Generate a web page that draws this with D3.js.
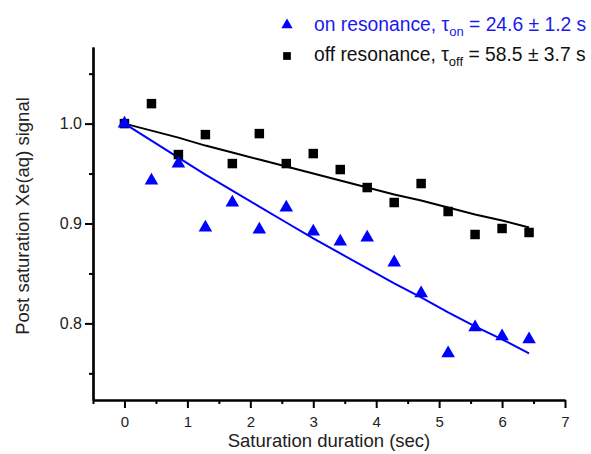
<!DOCTYPE html>
<html>
<head>
<meta charset="utf-8">
<script src="https://cdn.jsdelivr.net/npm/d3@7"></script>
<style>
  body { margin: 0; background: #fff; }
  svg { font-family: "Liberation Sans", Arial, sans-serif; }
</style>
</head>
<body>
<svg id="chart" width="591" height="454"></svg>
<script>
// saturation times (sec)
const times = [0, 0.429, 0.857, 1.286, 1.714, 2.143, 2.571, 3.0, 3.429, 3.857, 4.286, 4.714, 5.143, 5.571, 6.0, 6.429];

// measured signal
const onValues  = [1.000, 0.943, 0.960, 0.896, 0.921, 0.894, 0.916, 0.892, 0.882, 0.886, 0.861, 0.830, 0.770, 0.796, 0.787, 0.784];
const offValues = [1.000, 1.020, 0.969, 0.989, 0.960, 0.990, 0.960, 0.970, 0.954, 0.936, 0.921, 0.940, 0.912, 0.889, 0.895, 0.891];

// fitted decay curves
const onFit  = [1.000, 0.983, 0.966, 0.949, 0.933, 0.917, 0.901, 0.885, 0.870, 0.855, 0.840, 0.826, 0.811, 0.797, 0.784, 0.770];
const offFit = [1.000, 0.993, 0.986, 0.978, 0.971, 0.964, 0.957, 0.950, 0.943, 0.936, 0.929, 0.923, 0.916, 0.909, 0.903, 0.896];

const xTicks = [0, 1, 2, 3, 4, 5, 6, 7];
const yTicks = [0.8, 0.9, 1.0];

const svg = d3.select('#chart');

const x = d3.scaleLinear().domain([-0.5, 7]).range([93, 565]);
const y = d3.scaleLinear().domain([0.7233, 1.0767]).range([400, 47]);

const blue = '#0000ff';

// axes
const xAxis = d3.axisBottom(x).tickValues(xTicks).tickSize(8).tickSizeOuter(0).tickFormat(d3.format('d'));
const xMinor = d3.axisBottom(x).tickValues(d3.range(-0.5, 7, 1)).tickSize(4).tickSizeOuter(0).tickFormat('');
const yAxis = d3.axisLeft(y).tickValues(yTicks).tickSize(8).tickSizeOuter(0).tickFormat(d3.format('.1f'));
const yMinor = d3.axisLeft(y).tickValues([0.75, 0.85, 0.95, 1.05]).tickSize(4).tickSizeOuter(0).tickFormat('');

function styleAxis(g) {
  g.select('.domain').attr('stroke', '#000').attr('stroke-width', 2.2);
  g.selectAll('.tick line').attr('stroke', '#000').attr('stroke-width', 2);
  g.selectAll('.tick text').attr('font-size', 16).attr('fill', '#222')
    .attr('font-family', '"Liberation Sans", Arial, sans-serif');
}

svg.append('g').attr('transform', 'translate(0,400)').call(xMinor).call(styleAxis);
svg.append('g').attr('transform', 'translate(0,400)').call(xAxis).call(styleAxis)
  .selectAll('.tick text').attr('font-size', 15).attr('dy', '1.05em');
svg.append('g').attr('transform', 'translate(93,0)').call(yMinor).call(styleAxis);
svg.append('g').attr('transform', 'translate(93,0)').call(yAxis).call(styleAxis);

// axis titles
svg.append('text')
  .attr('x', 329).attr('y', 447)
  .attr('text-anchor', 'middle').attr('font-size', 18.5).attr('fill', '#222')
  .text('Saturation duration (sec)');

svg.append('text')
  .attr('transform', 'translate(29,216) rotate(-90)')
  .attr('text-anchor', 'middle').attr('font-size', 18.5).attr('fill', '#222')
  .text('Post saturation Xe(aq) signal');

// fit lines
const line = d3.line().x((d, i) => x(times[i])).y(d => y(d));

svg.append('path').datum(offFit).attr('d', line)
  .attr('fill', 'none').attr('stroke', '#000').attr('stroke-width', 2);
svg.append('path').datum(onFit).attr('d', line)
  .attr('fill', 'none').attr('stroke', blue).attr('stroke-width', 2);

// markers
const square = d3.symbol().type(d3.symbolSquare).size(90);
const triangle = d3.symbol().type(d3.symbolTriangle).size(80);

svg.append('g').selectAll('path').data(offValues).join('path')
  .attr('d', square)
  .attr('transform', (d, i) => `translate(${x(times[i])},${y(d)})`)
  .attr('fill', '#000');

svg.append('g').selectAll('path').data(onValues).join('path')
  .attr('d', triangle)
  .attr('transform', (d, i) => `translate(${x(times[i])},${y(d)})`)
  .attr('fill', blue);

// legend
const legend = svg.append('g');
legend.append('path').attr('d', d3.symbol().type(d3.symbolTriangle).size(55))
  .attr('transform', 'translate(287,25)').attr('fill', blue);
legend.append('path').attr('d', d3.symbol().type(d3.symbolSquare).size(60))
  .attr('transform', 'translate(287,56)').attr('fill', '#000');

const t1 = legend.append('text').attr('x', 314).attr('y', 31)
  .attr('font-size', 19.3).attr('fill', '#1a1aee');
t1.append('tspan').text('on resonance, τ');
t1.append('tspan').attr('font-size', 13).attr('dy', 5).text('on');
t1.append('tspan').attr('dy', -5).text(' = 24.6 ± 1.2 s');

const t2 = legend.append('text').attr('x', 314).attr('y', 61)
  .attr('font-size', 19.3).attr('fill', '#111');
t2.append('tspan').text('off resonance, τ');
t2.append('tspan').attr('font-size', 13).attr('dy', 5).text('off');
t2.append('tspan').attr('dy', -5).text(' = 58.5 ± 3.7 s');
</script>
</body>
</html>
